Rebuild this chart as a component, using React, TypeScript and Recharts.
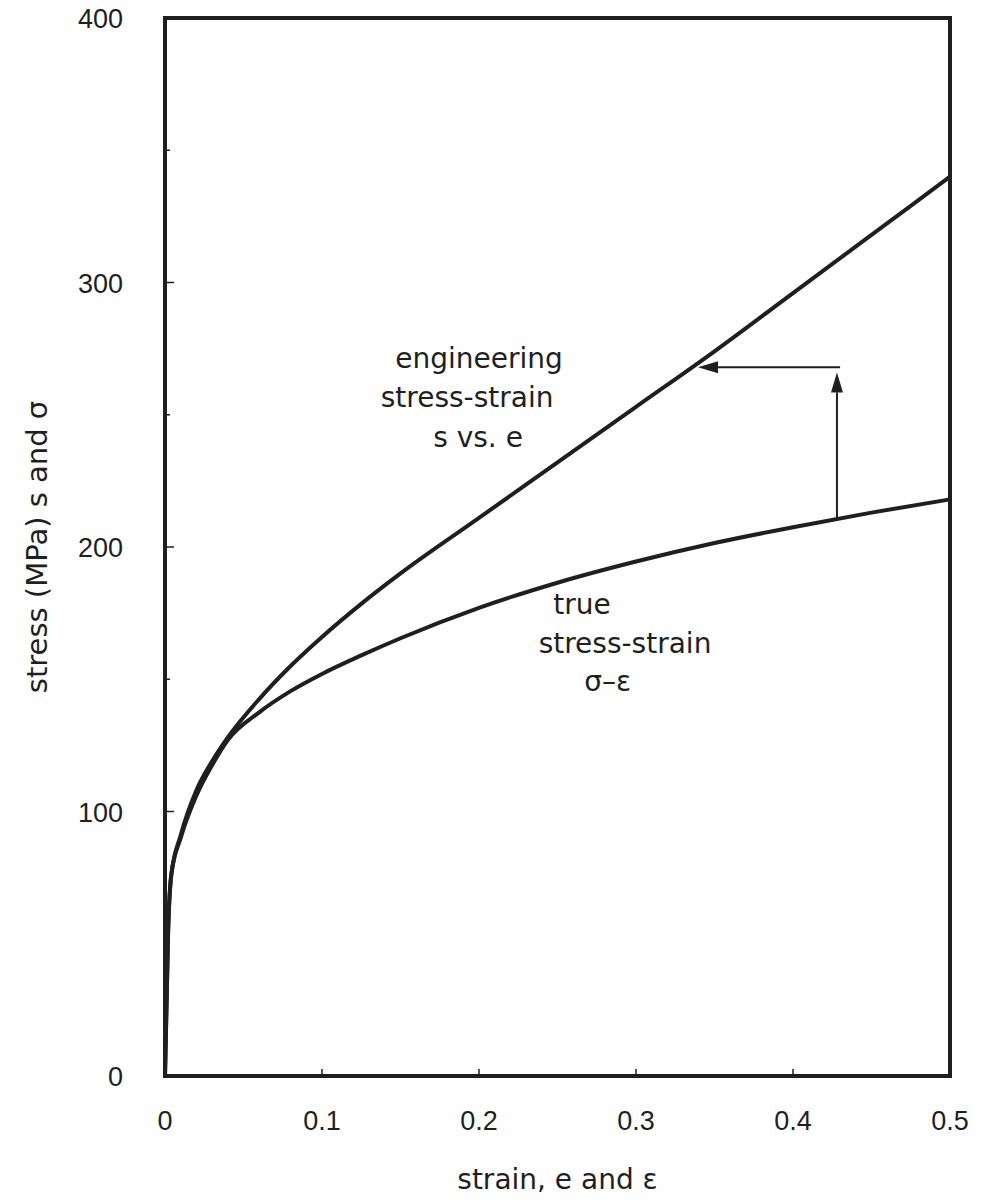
import { LineChart, Line, XAxis, YAxis, ReferenceLine, ReferenceDot, ReferenceArea } from "recharts";

const strain = [0, 0.002, 0.004, 0.01, 0.02, 0.03, 0.04, 0.06, 0.08, 0.1, 0.125, 0.15, 0.2, 0.25, 0.3, 0.35, 0.4, 0.45, 0.5];
const engineeringStress = [0, 55, 76, 91, 108, 119, 128, 142.5, 155, 166, 178.5, 190, 211, 232, 253, 274, 296, 318, 340];
const trueStress = [0, 55, 76, 90, 106, 117.5, 127, 137.5, 145.5, 152, 159, 165.5, 177, 186.5, 194.5, 201.5, 207.5, 213, 218];

const strainTicks = [0, 0.1, 0.2, 0.3, 0.4, 0.5];
const stressTicks = [0, 50, 100, 150, 200, 250, 300, 350, 400];

const engLabels = ["engineering", "stress-strain", "s vs. e"];
const engLabelStrain = [0.2, 0.1924, 0.1994];
const engLabelStress = [271.5, 256.7, 241.6];

const trueLabels = ["true", "stress-strain", "σ–ε"];
const trueLabelStrain = [0.2656, 0.293, 0.282];
const trueLabelStress = [178.4, 163.5, 149.5];

// arrow from true curve up, then across to engineering curve
const arrowStrain = 0.428;
const arrowFrom = 211;
const arrowTo = 266;
const arrowLevel = 268;
const arrowEnd = 0.3395;

const data = strain.map((e, i) => ({
  strain: e,
  eng: engineeringStress[i],
  tru: trueStress[i],
}));

const INK = "#1f1f1f";
const FONT = "DejaVu Sans";
const TICK_FONT = "Liberation Sans, Arial, sans-serif";

const XTick = (props: any) => {
  const { x, y, payload } = props;
  const v = payload.value;
  const inner = v > 0 && v < 0.5;
  return (
    <g>
      {inner && <line x1={x} y1={y} x2={x} y2={y - 7} stroke={INK} strokeWidth={1.5} />}
      <text x={x} y={y + 54} textAnchor="middle" fontSize={27} fontFamily={TICK_FONT} fill={INK}>
        {String(v)}
      </text>
    </g>
  );
};

const YTick = (props: any) => {
  const { x, y, payload } = props;
  const v = payload.value;
  const inner = v > 0 && v < 400;
  return (
    <g>
      {inner && <line x1={x} y1={y} x2={x + (v % 100 === 0 ? 9 : 5)} y2={y} stroke={INK} strokeWidth={1.5} />}
      {v % 100 === 0 && (
        <text x={x - 42} y={y + 10} textAnchor="end" fontSize={27} fontFamily={TICK_FONT} fill={INK}>
          {v}
        </text>
      )}
    </g>
  );
};

const Arrow = (props: any) => {
  const { x1, y1, x2, y2 } = props;
  const ang = Math.atan2(y2 - y1, x2 - x1);
  const len = 20;
  const half = 6;
  const bx = x2 - len * Math.cos(ang);
  const by = y2 - len * Math.sin(ang);
  const px = -Math.sin(ang) * half;
  const py = Math.cos(ang) * half;
  return (
    <g>
      <line x1={x1} y1={y1} x2={bx} y2={by} stroke={INK} strokeWidth={2} />
      <polygon points={`${x2},${y2} ${bx + px},${by + py} ${bx - px},${by - py}`} fill={INK} />
    </g>
  );
};

const YTitle = (props: any) => {
  const { viewBox } = props;
  const cx = viewBox.x + 37;
  const cy = viewBox.y + viewBox.height / 2;
  return (
    <text
      x={cx}
      y={cy}
      transform={`rotate(-90 ${cx} ${cy})`}
      textAnchor="middle"
      dominantBaseline="central"
      fontSize={29}
      fontFamily={FONT}
      fill={INK}
    >
      stress (MPa) s and σ
    </text>
  );
};

export default function App() {
  return (
    <div style={{ position: "absolute", left: 0, top: 0, width: 984, height: 1203, background: "#fff" }}>
      <LineChart width={984} height={1203} data={data} margin={{ top: 18, right: 34, bottom: 0, left: 0 }}>
        <XAxis
          dataKey="strain"
          type="number"
          domain={[0, 0.5]}
          ticks={strainTicks}
          interval={0}
          height={127}
          tickSize={0}
          tickMargin={0}
          tickLine={false}
          axisLine={{ stroke: INK, strokeWidth: 4 }}
          tick={XTick}
          label={{ value: "strain, e and ε", position: "insideBottom", offset: 14, fontSize: 28, fontFamily: FONT, fill: INK }}
        />
        <YAxis
          type="number"
          domain={[0, 400]}
          ticks={stressTicks}
          interval={0}
          width={165}
          tickSize={0}
          tickMargin={0}
          tickLine={false}
          axisLine={{ stroke: INK, strokeWidth: 4 }}
          tick={YTick}
          label={<YTitle />}
        />

        <ReferenceArea x1={0} x2={0.5} y1={0} y2={400} fill="none" fillOpacity={0} stroke={INK} strokeWidth={4} />

        <Line type="monotone" dataKey="eng" stroke={INK} strokeWidth={4} dot={false} isAnimationActive={false} />
        <Line type="monotone" dataKey="tru" stroke={INK} strokeWidth={4} dot={false} isAnimationActive={false} />

        <ReferenceLine
          segment={[{ x: arrowStrain, y: arrowFrom }, { x: arrowStrain, y: arrowTo }]}
          shape={Arrow}
        />
        <ReferenceLine
          segment={[{ x: arrowStrain + 0.002, y: arrowLevel }, { x: arrowEnd, y: arrowLevel }]}
          shape={Arrow}
        />

        {engLabels.map((t, i) => (
          <ReferenceDot
            key={"e" + i}
            x={engLabelStrain[i]}
            y={engLabelStress[i]}
            r={0}
            stroke="none"
            fill="none"
            label={{ value: t, position: "center", fontSize: 28, fontFamily: FONT, fill: INK }}
          />
        ))}
        {trueLabels.map((t, i) => (
          <ReferenceDot
            key={"t" + i}
            x={trueLabelStrain[i]}
            y={trueLabelStress[i]}
            r={0}
            stroke="none"
            fill="none"
            label={{ value: t, position: "center", fontSize: 28, fontFamily: FONT, fill: INK }}
          />
        ))}
      </LineChart>
    </div>
  );
}
